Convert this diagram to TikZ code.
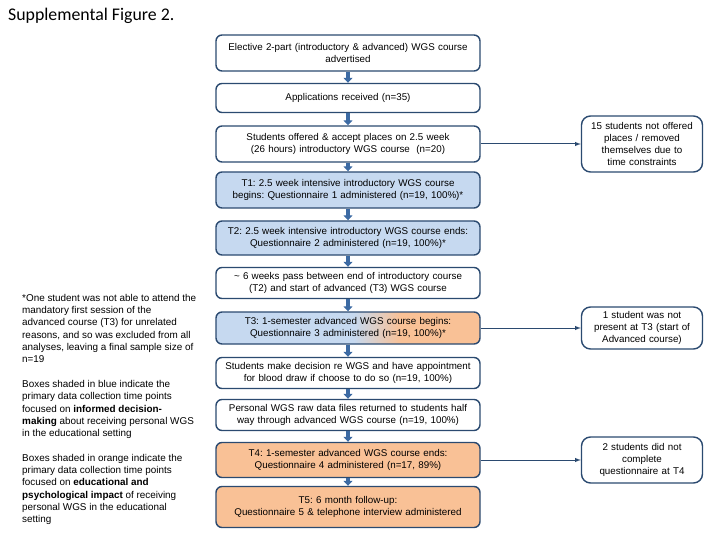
\documentclass[tikz,border=0pt]{standalone}
\usepackage{fontspec}
\setmainfont{Liberation Sans}
\newfontfamily\titlefont{Carlito}
\usetikzlibrary{arrows.meta}
\frenchspacing

\definecolor{boxline}{HTML}{2B4A70}
\definecolor{bluebox}{HTML}{C6D9F0}
\definecolor{orangebox}{HTML}{F9C196}
\definecolor{flowarrow}{HTML}{3C6AA3}
\pgfdeclarehorizontalshading{bluetoorange}{100bp}{color(0bp)=(bluebox); color(51bp)=(bluebox); color(60bp)=(orangebox); color(100bp)=(orangebox)}

\begin{document}
\begin{tikzpicture}[x=1pt,y=-1pt,>=latex,
  every node/.style={font=\fontsize{9.8}{12.7}\selectfont},
  flowbox/.style={draw=boxline,line width=1.4pt,rounded corners=6pt,fill=white,
    align=center,text width=256pt,inner xsep=4pt,inner ysep=2pt},
  sidebox/.style={draw=boxline,line width=1.4pt,rounded corners=9pt,fill=white,
    align=center,text width=113pt,inner xsep=4pt,inner ysep=2pt,
    font=\fontsize{9.8}{11.8}\selectfont},
  flowstep/.style={draw=flowarrow,line width=4pt,-{Triangle[width=9pt,length=5pt]}},
  sidestep/.style={draw=boxline,line width=1pt,->}]

\useasboundingbox (0,0) rectangle (720,540);

\node[anchor=base west,inner sep=0pt,font=\titlefont\fontsize{17.8}{20}\selectfont] (title) at (8,21) {Supplemental Figure 2.};

\node[flowbox,minimum height=36pt] (elective) at (348,53) {Elective 2-part (introductory \& advanced) WGS course\\advertised};
\node[flowbox,minimum height=29pt] (applications) at (348,98) {Applications received (n=35)};
\node[flowbox,minimum height=36pt] (offered) at (348,144) {Students offered \& accept places on 2.5 week\\(26 hours) introductory WGS course~~(n=20)};
\node[flowbox,fill=bluebox,minimum height=36pt] (tone) at (348,190) {T1: 2.5 week intensive introductory WGS course\\begins: Questionnaire 1 administered (n=19, 100\%)*};
\node[flowbox,fill=bluebox,minimum height=34pt] (ttwo) at (348,238) {T2: 2.5 week intensive introductory WGS course ends:\\Questionnaire 2 administered (n=19, 100\%)*};
\node[flowbox,minimum height=31pt] (pause) at (348,283) {\textasciitilde{} 6 weeks pass between end of introductory course\\(T2) and start of advanced (T3) WGS course};
\node[flowbox,shading=bluetoorange,minimum height=32pt] (tthree) at (348,328) {T3: 1-semester advanced WGS course begins:\\Questionnaire 3 administered (n=19, 100\%)*};
\node[flowbox,minimum height=31pt] (decision) at (348,373) {Students make decision re WGS and have appointment\\for blood draw if choose to do so (n=19, 100\%)};
\node[flowbox,minimum height=31pt] (rawdata) at (348,415) {Personal WGS raw data files returned to students half\\way through advanced WGS course (n=19, 100\%)};
\node[flowbox,fill=orangebox,minimum height=35pt] (tfour) at (348,460) {T4: 1-semester advanced WGS course ends:\\Questionnaire 4 administered (n=17, 89\%)};
\node[flowbox,fill=orangebox,minimum height=41pt] (tfive) at (348,507) {T5: 6 month follow-up:\\Questionnaire 5 \& telephone interview administered};

\foreach \a/\b in {elective/applications,applications/offered,offered/tone,tone/ttwo,ttwo/pause,
  pause/tthree,tthree/decision,decision/rawdata,rawdata/tfour,tfour/tfive}
  \draw[flowstep] (\a) -- (\b);

\node[sidebox,minimum height=56pt] (notoffered) at (642,144) {15 students not offered\\places / removed\\themselves due to\\time constraints};
\node[sidebox,minimum height=42pt] (absent) at (642,328) {1 student was not\\present at T3 (start of\\Advanced course)};
\node[sidebox,minimum height=46pt] (incomplete) at (642,460) {2 students did not\\complete\\questionnaire at T4};

\draw[sidestep] (offered) -- (notoffered);
\draw[sidestep] (tthree) -- (absent);
\draw[sidestep] (tfour) -- (incomplete);

\node[anchor=north west,align=left,inner sep=0pt,font=\fontsize{9.9}{12.3}\selectfont] (notes) at (22,294)
{*One student was not able to attend the\\
mandatory first session of the\\
advanced course (T3) for unrelated\\
reasons, and so was excluded from all\\
analyses, leaving a final sample size of\\
n=19\\[12.3pt]
Boxes shaded in blue indicate the\\
primary data collection time points\\
focused on \textbf{informed decision-}\\
\textbf{making} about receiving personal WGS\\
in the educational setting\\[12.3pt]
Boxes shaded in orange indicate the\\
primary data collection time points\\
focused on \textbf{educational and}\\
\textbf{psychological impact} of receiving\\
personal WGS in the educational\\
setting};

\end{tikzpicture}
\end{document}
